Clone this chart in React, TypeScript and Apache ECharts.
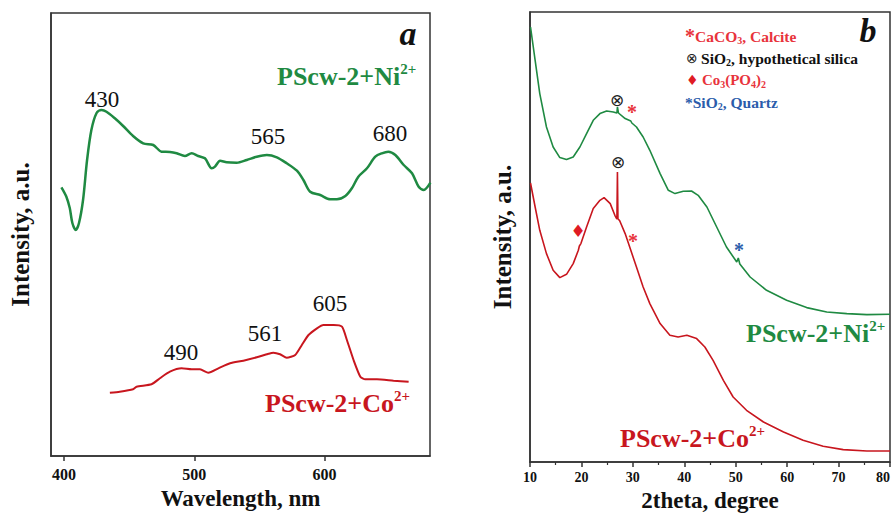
import React, { useEffect, useRef } from "react";
import * as echarts from "echarts";

// ---- Panel a: UV-vis (wavelength, nm) ----
const uvTicks = [400, 500, 600];
const niWavelength = [398, 401.8, 404.4, 406.4, 409, 411.5, 414.6, 417.7, 421, 425, 428.8, 432.6, 439, 445.4, 453, 460.8, 468.5, 474.9, 481.3, 486.5, 492.8, 498, 503, 508.2, 513.4, 515.9, 519.8, 524.9, 532.6, 540.3, 548, 555.7, 563.4, 571, 578.8, 583.8, 589, 596.7, 604.4, 609.5, 616, 621, 626, 632.6, 639, 644, 649, 654.4, 660.8, 667.2, 672.3, 676.2, 681.3];
const niIntensity = [268.7, 259.3, 248, 233, 226, 233, 256, 296, 326, 343, 346, 344.3, 337.7, 330, 320, 312.7, 311, 304.3, 304, 302.7, 300, 302.7, 300, 297.7, 287.7, 289.3, 295.3, 293.7, 293.3, 296, 299.3, 301, 298.7, 292.7, 285.3, 276, 264.3, 261, 256.7, 256.7, 260, 267.7, 279.3, 287.7, 299.3, 302.7, 304.3, 301, 291, 282.7, 269.3, 266, 273.3];
const coWavelength = [435.2, 442.8, 453, 455.7, 467.2, 473.6, 481.3, 490.3, 498, 504.4, 510.8, 518.5, 527.5, 537.7, 548, 555.7, 560.8, 565.9, 571, 577.5, 582.6, 587.7, 594.2, 599.2, 607, 613.4, 617.2, 622.3, 627.5, 631.3, 640.3, 653, 664.6];
const coIntensity = [63.3, 64.3, 66.7, 69.3, 71.7, 77.7, 84.3, 87.7, 86.7, 86.7, 83.3, 87.7, 92.7, 95.3, 98.7, 101.7, 103.3, 101.7, 98.3, 101, 111, 121, 127.7, 131, 131, 129.3, 116, 96, 79.3, 76.7, 76.7, 75.3, 74.3];
const uvPeakLabels = ["430", "565", "680", "605", "561", "490"];

// ---- Panel b: XRD (2theta, degree) ----
const niTheta = [10.1, 11, 11.9, 13.2, 14.5, 15.8, 17.1, 18.4, 19.7, 21, 22.3, 23.6, 24.9, 26.2, 26.9, 27.0, 27.2, 28.5, 29.6, 29.8, 30.7, 32, 33.3, 35.3, 36.9, 38.2, 39.8, 41.4, 42.7, 44.4, 46.3, 48.2, 50.2, 50.5, 50.8, 52.8, 56, 59.9, 63.8, 67.7, 71.6, 75.5, 80];
const niCounts = [435, 401.7, 368.4, 335, 315, 304.4, 302.4, 305, 315, 328.4, 341.7, 348.4, 351, 350, 349, 355, 349, 343.4, 341, 339, 335, 325, 311.7, 288.4, 271.7, 268.4, 270.7, 271, 266.7, 255, 235, 215, 200, 204, 198, 185, 171.7, 161.7, 154.4, 150, 148.4, 147.4, 147.7];
const coTheta = [10.1, 11, 11.9, 13.2, 14.5, 15.8, 17.1, 18.4, 19.4, 19.6, 19.9, 21, 22.3, 23.6, 24.4, 25.6, 26.5, 26.9, 27.0, 27.1, 27.4, 28.5, 29.6, 30.7, 32, 33.3, 35.3, 37.2, 38.8, 40.5, 42.4, 44, 45.6, 47.6, 49.5, 52.1, 55.4, 59.3, 63.1, 67, 70.9, 75.5, 80];
const coCounts = [279, 255, 231.7, 208.4, 191.7, 184.4, 187.7, 198.4, 211.7, 216, 218.4, 235, 253.4, 261.7, 264.4, 258.4, 246.7, 243, 290, 243, 241.7, 228.4, 211.7, 195, 175, 158.4, 138.4, 126.7, 125, 126.7, 123.4, 115, 101.7, 81.7, 65, 51.7, 40, 30, 21.7, 15.7, 12.4, 11, 11];

const SERIF = "Liberation Serif, Times New Roman, serif";
const SYM = "DejaVu Sans, sans-serif";
const GREEN = "#1f8a42";
const RED = "#c8161e";
const LRED = "#e8333c";
const BLUE = "#2b5cab";
const AXIS = "#333";

const pair = (xs: number[], ys: number[]) => xs.map((x, i) => [x, ys[i]]);

function sampleLabel(x: number, y: number, base: string, color: string) {
  return {
    type: "text",
    x,
    y,
    style: {
      text: `{m|${base}}{s|2+}`,
      align: "left",
      verticalAlign: "middle",
      rich: {
        m: { fontSize: 26, fontWeight: "bold", fontFamily: SERIF, fill: color, lineHeight: 30 },
        s: { fontSize: 15, fontWeight: "bold", fontFamily: SERIF, fill: color, lineHeight: 15, verticalAlign: "top" },
      },
    },
  };
}

function plainText(x: number, y: number, text: string, opts: any) {
  return {
    type: "text",
    x,
    y,
    style: { text, align: "center", verticalAlign: "middle", fontFamily: SERIF, ...opts },
  };
}

function legendRow(x: number, y: number, text: string, rich: any) {
  return { type: "text", x, y, style: { text, align: "left", verticalAlign: "middle", rich } };
}

export default function App() {
  const ref = useRef<HTMLDivElement>(null);
  useEffect(() => {
    if (!ref.current) return;
    const chart = echarts.init(ref.current, undefined, { renderer: "svg" });
    const tok = (color: string, size = 15.5) => ({ fontSize: size, fontWeight: "bold", fontFamily: SERIF, fill: color, lineHeight: 18 });
    const sub = (color: string) => ({ fontSize: 10, fontWeight: "bold", fontFamily: SERIF, fill: color, lineHeight: 10, verticalAlign: "bottom" });

    const option: any = {
      animation: false,
      backgroundColor: "#fff",
      grid: [
        { left: 51, right: 463, top: 13, bottom: 58, outerBoundsMode: "none", containLabel: false, show: true, borderColor: AXIS, borderWidth: 1.5, backgroundColor: "transparent" },
        { left: 530, right: 3, top: 12, bottom: 52, outerBoundsMode: "none", containLabel: false, show: true, borderColor: AXIS, borderWidth: 1.5, backgroundColor: "transparent" },
      ],
      xAxis: [
        {
          type: "value", gridIndex: 0, min: 390, max: 681,
          name: "Wavelength, nm", nameLocation: "middle", nameGap: 29,
          nameTextStyle: { fontFamily: SERIF, fontWeight: "bold", fontSize: 23, color: "#111" },
          axisLine: { lineStyle: { color: AXIS, width: 1.5 } },
          axisTick: { show: true, inside: false, length: 5, customValues: uvTicks, lineStyle: { color: AXIS, width: 1.5 } },
          axisLabel: { customValues: uvTicks, fontFamily: SERIF, fontWeight: "bold", fontSize: 16, color: "#111", margin: 10 },
          splitLine: { show: false },
        },
        {
          type: "value", gridIndex: 1, min: 10, max: 80, interval: 10,
          name: "2theta, degree", nameLocation: "middle", nameGap: 25,
          nameTextStyle: { fontFamily: SERIF, fontWeight: "bold", fontSize: 23, color: "#111" },
          axisLine: { lineStyle: { color: AXIS, width: 1.5 } },
          axisTick: { show: true, inside: false, length: 5, lineStyle: { color: AXIS, width: 1.5 } },
          minorTick: { show: true, splitNumber: 2, length: 3, lineStyle: { color: AXIS, width: 1.2 } },
          axisLabel: { fontFamily: SERIF, fontWeight: "bold", fontSize: 14, color: "#111", margin: 8, showMaxLabel: true, alignMaxLabel: "right" },
          splitLine: { show: false },
        },
      ],
      yAxis: [
        {
          type: "value", gridIndex: 0, min: 0, max: 443,
          name: "Intensity, a.u.", nameLocation: "middle", nameGap: 18,
          nameTextStyle: { fontFamily: SERIF, fontWeight: "bold", fontSize: 25, color: "#111" },
          axisLine: { show: true, lineStyle: { color: AXIS, width: 1.5 } },
          axisTick: { show: false }, axisLabel: { show: false }, splitLine: { show: false },
        },
        {
          type: "value", gridIndex: 1, min: 0, max: 450,
          name: "Intensity, a.u.", nameLocation: "middle", nameGap: 15,
          nameTextStyle: { fontFamily: SERIF, fontWeight: "bold", fontSize: 25, color: "#111" },
          axisLine: { show: true, lineStyle: { color: AXIS, width: 1.5 } },
          axisTick: { show: false }, axisLabel: { show: false }, splitLine: { show: false },
        },
      ],
      series: [
        { type: "line", xAxisIndex: 0, yAxisIndex: 0, data: pair(niWavelength, niIntensity), showSymbol: false, smooth: 0.3, lineStyle: { color: GREEN, width: 2.5 } },
        { type: "line", xAxisIndex: 0, yAxisIndex: 0, data: pair(coWavelength, coIntensity), showSymbol: false, smooth: 0.2, lineStyle: { color: RED, width: 2 } },
        { type: "line", xAxisIndex: 1, yAxisIndex: 1, data: pair(niTheta, niCounts), showSymbol: false, smooth: false, lineStyle: { color: GREEN, width: 1.6 } },
        { type: "line", xAxisIndex: 1, yAxisIndex: 1, data: pair(coTheta, coCounts), showSymbol: false, smooth: false, lineStyle: { color: RED, width: 1.6 } },
      ],
      graphic: [
        plainText(408, 33, "a", { fontSize: 34, fontWeight: "bold", fontStyle: "italic", fill: "#111" }),
        plainText(868, 30, "b", { fontSize: 34, fontWeight: "bold", fontStyle: "italic", fill: "#111" }),
        sampleLabel(277, 76, "PScw-2+Ni", GREEN),
        sampleLabel(265, 403, "PScw-2+Co", RED),
        sampleLabel(746, 333, "PScw-2+Ni", GREEN),
        sampleLabel(620, 438, "PScw-2+Co", RED),
        plainText(102, 99, uvPeakLabels[0], { fontSize: 23, fill: "#111" }),
        plainText(268, 136, uvPeakLabels[1], { fontSize: 23, fill: "#111" }),
        plainText(390, 133, uvPeakLabels[2], { fontSize: 23, fill: "#111" }),
        plainText(330, 303, uvPeakLabels[3], { fontSize: 23, fill: "#111" }),
        plainText(265, 333, uvPeakLabels[4], { fontSize: 23, fill: "#111" }),
        plainText(181, 352, uvPeakLabels[5], { fontSize: 23, fill: "#111" }),
        legendRow(685, 36, "{st|*}{a|CaCO}{s|3}{a|, Calcite}", {
          st: { fontSize: 20, fontWeight: "bold", fontFamily: SERIF, fill: LRED, lineHeight: 18 }, a: tok(LRED), s: sub(LRED),
        }),
        legendRow(686, 58, "{o|⊗} {a|SiO}{s|2}{a|, hypothetical silica}", {
          o: { fontSize: 14, fontFamily: SYM, fill: "#222", lineHeight: 18 }, a: tok("#111"), s: sub("#111"),
        }),
        legendRow(686, 80, "{o|♦} {a|Co}{s|3}{a|(PO}{s|4}{a|)}{s|2}", {
          o: { fontSize: 14, fontFamily: SYM, fill: "#e01b24", lineHeight: 18 }, a: tok(LRED, 15), s: sub(LRED),
        }),
        legendRow(685, 102, "{a|*SiO}{s|2}{a|, Quartz}", { a: tok(BLUE), s: sub(BLUE) }),
        plainText(617, 100, "⊗", { fontSize: 17, fontFamily: SYM, fill: "#222" }),
        plainText(618, 162, "⊗", { fontSize: 17, fontFamily: SYM, fill: "#222" }),
        plainText(632, 112, "*", { fontSize: 20, fontWeight: "bold", fill: LRED }),
        plainText(633, 241, "*", { fontSize: 20, fontWeight: "bold", fill: LRED }),
        plainText(739, 250, "*", { fontSize: 20, fontWeight: "bold", fill: BLUE }),
        plainText(578, 231, "♦", { fontSize: 17, fontFamily: SYM, fill: "#e01b24" }),
      ],
    };
    chart.setOption(option);
    return () => chart.dispose();
  }, []);
  return <div ref={ref} style={{ position: "absolute", left: 0, top: 0, width: 893, height: 514 }} />;
}
